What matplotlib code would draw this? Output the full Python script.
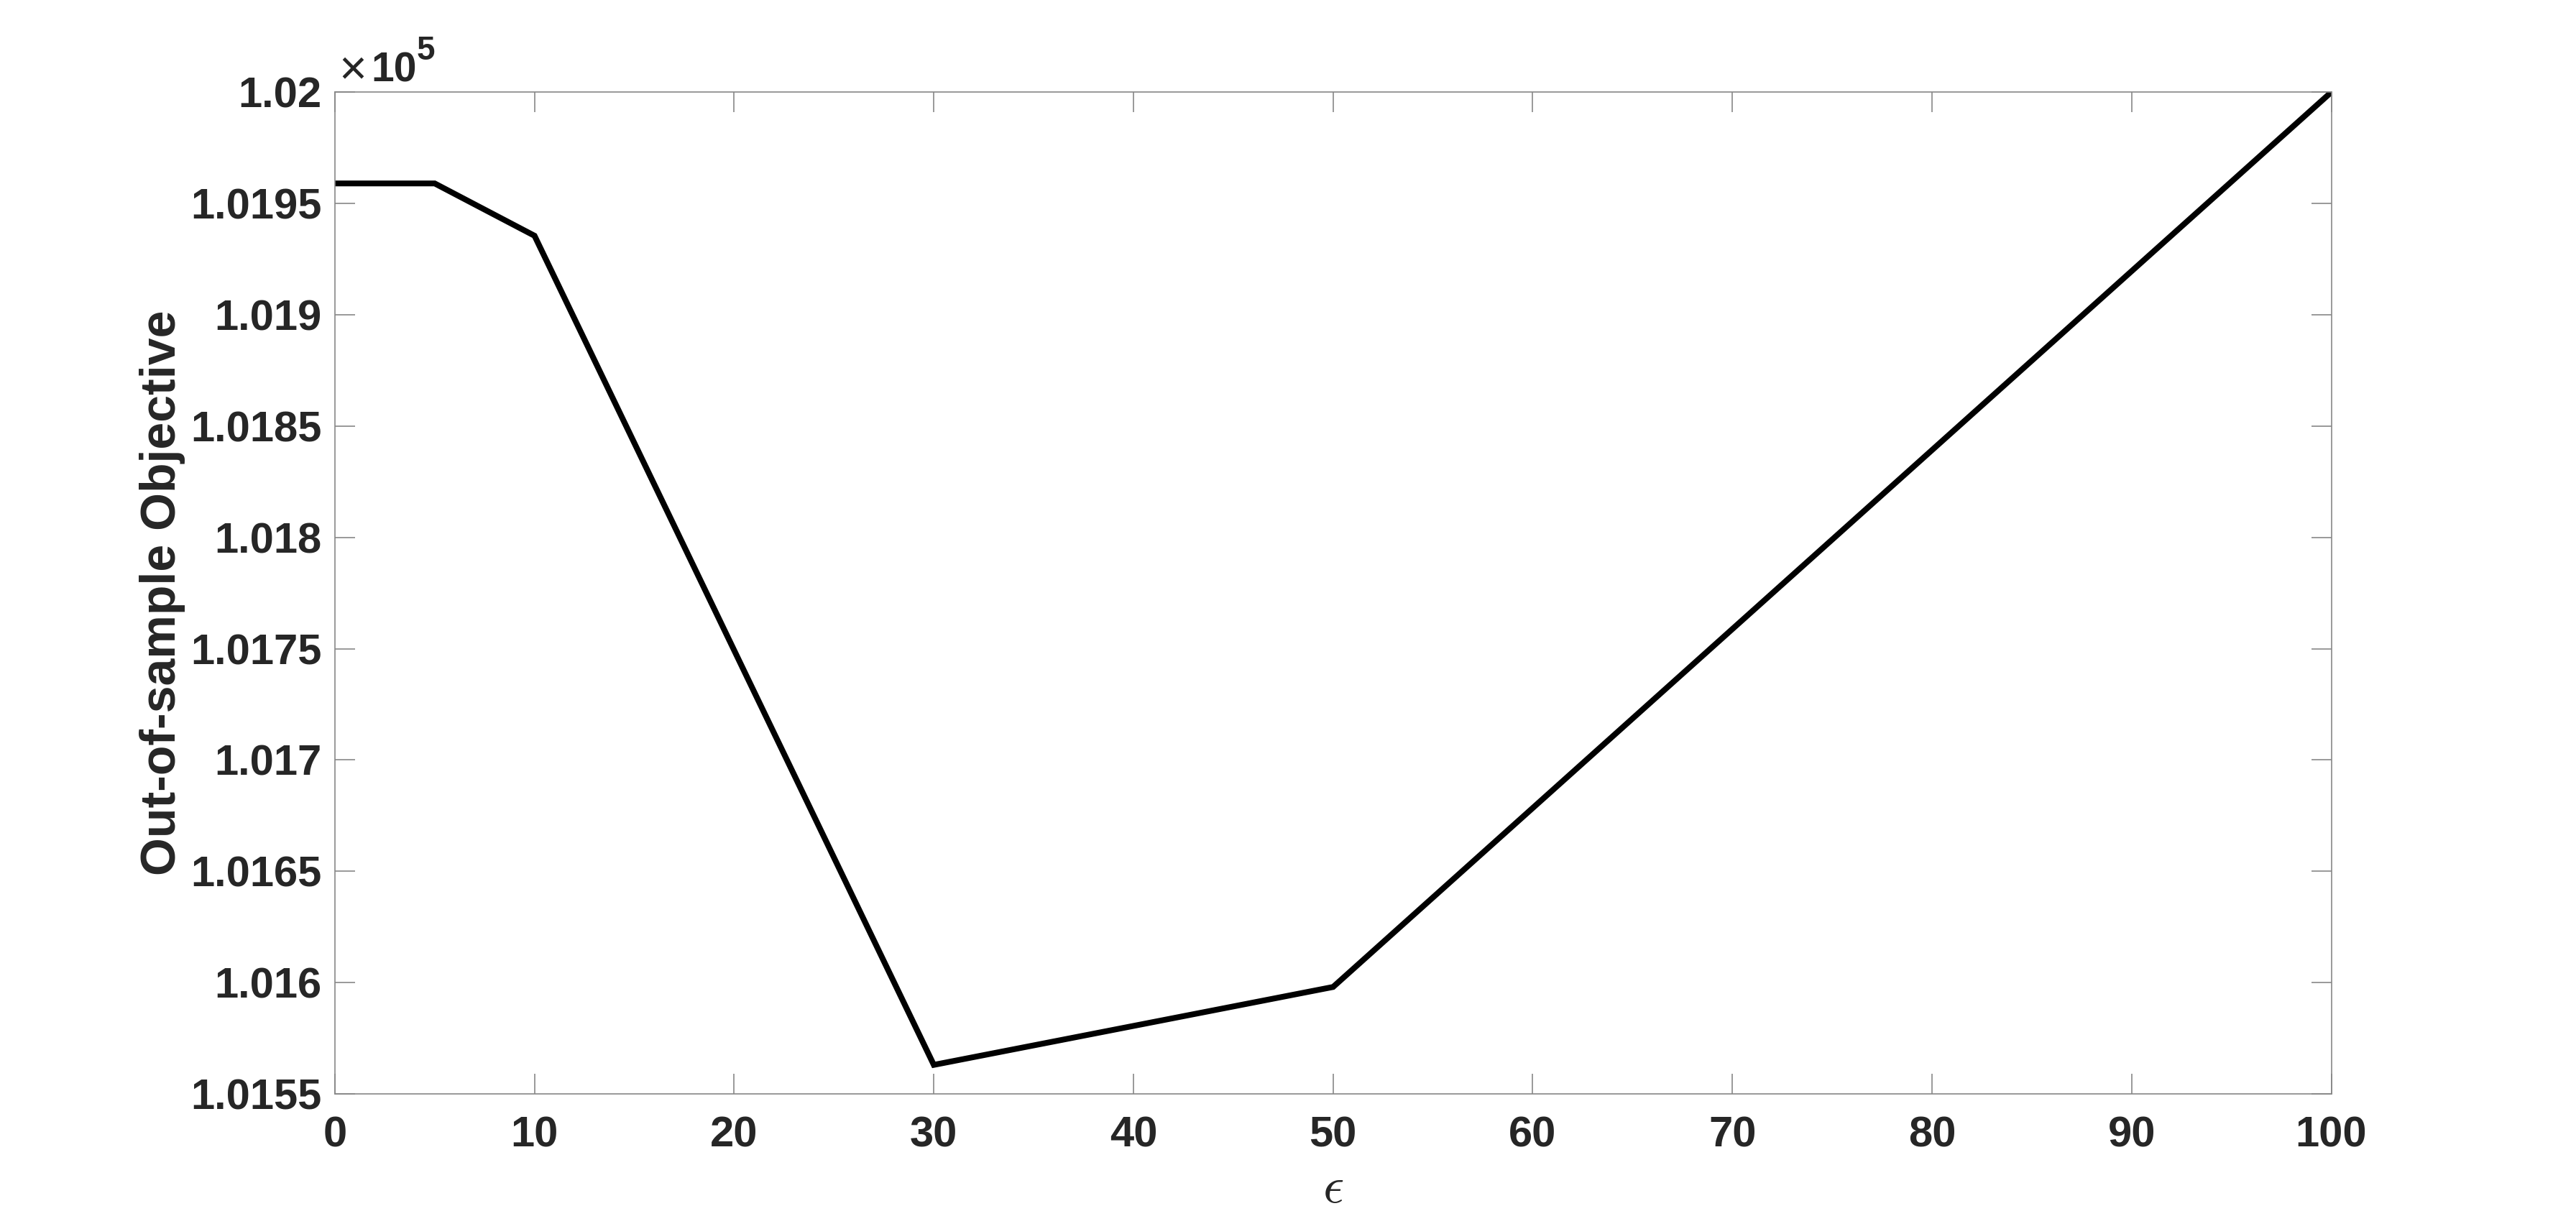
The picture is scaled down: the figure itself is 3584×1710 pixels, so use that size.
import matplotlib
matplotlib.use('Agg')
import matplotlib.pyplot as plt

# ---- data ----
epsilon = [0, 5, 10, 30, 50, 100]
objective = [101959.0, 101959.0, 101935.5, 101563.0, 101598.0, 102000.0]
x_ticks = [0, 10, 20, 30, 40, 50, 60, 70, 80, 90, 100]
y_ticks = [101550, 101600, 101650, 101700, 101750, 101800, 101850, 101900, 101950, 102000]
y_tick_labels = ['1.0155', '1.016', '1.0165', '1.017', '1.0175', '1.018',
                 '1.0185', '1.019', '1.0195', '1.02']
x_label = r'$\epsilon$'
y_label = 'Out-of-sample Objective'

plt.rcParams['font.family'] = ['Liberation Sans', 'DejaVu Sans']

TXT = '#262626'
AX = '#878787'

fig = plt.figure(figsize=(17.92, 8.55), dpi=200)
ax = fig.add_axes([0.13, 0.11, 0.775, 0.815])

ax.plot(epsilon, objective, color='black', linewidth=2.9, solid_joinstyle='miter')

ax.set_xlim(0, 100)
ax.set_ylim(101550, 102000)
ax.set_xticks(x_ticks)
ax.set_xticklabels([str(t) for t in x_ticks])
ax.set_yticks(y_ticks)
ax.set_yticklabels(y_tick_labels)

ax.tick_params(axis='both', which='major', direction='in', length=10, width=0.6,
               color=AX, top=True, right=True, labelsize=21.5, labelcolor=TXT)
ax.tick_params(axis='x', pad=11)
ax.tick_params(axis='y', pad=6.5)
for lab in ax.get_xticklabels() + ax.get_yticklabels():
    lab.set_fontweight('bold')

for sp in ax.spines.values():
    sp.set_color(AX)
    sp.set_linewidth(0.6)

ax.set_ylabel(y_label, fontsize=24.5, fontweight='bold', color=TXT)
ax.yaxis.set_label_coords(-0.075, 0.5)
ax.set_xlabel(x_label, fontsize=26, color=TXT, math_fontfamily='cm')
ax.xaxis.set_label_coords(0.5, -0.071)

# exponent marker (x10^5) above the top-left corner of the axes
ax.text(0.009, 1.0208, '\u00d7', transform=ax.transAxes, ha='center', va='center',
        fontsize=24, color=TXT)
ax.text(0.018, 1.0108, '10', transform=ax.transAxes, ha='left', va='baseline',
        fontsize=20.5, fontweight='bold', color=TXT)
ax.text(0.0408, 1.0323, '5', transform=ax.transAxes, ha='left', va='baseline',
        fontsize=16.5, fontweight='bold', color=TXT)

fig.savefig('out.png', dpi=200, facecolor='white')
